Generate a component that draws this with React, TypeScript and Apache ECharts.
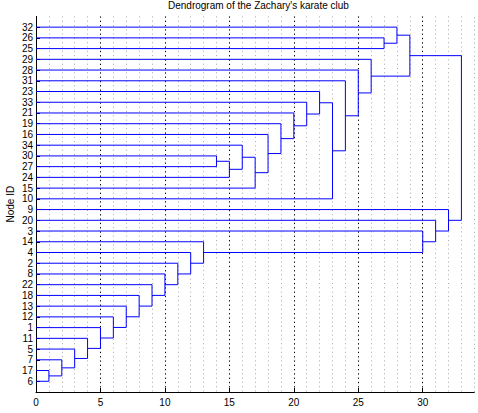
import React, { useEffect, useRef } from 'react';
import * as echarts from 'echarts';

// Leaves from bottom (position 1) to top (position 34)
const leafOrder = ['6', '17', '7', '5', '11', '1', '12', '13', '18', '22', '8', '2', '4', '14', '3', '20', '9', '10', '15', '24', '27', '30', '34', '16', '19', '21', '33', '23', '31', '28', '29', '25', '26', '32'];

// Linkage rows: leaves are 1..34, the cluster built in row k is 35 + k
const linkA = [6, 35, 36, 37, 38, 39, 40, 41, 42, 43, 44, 45, 46, 30, 48, 34, 50, 16, 19, 21, 33, 23, 56, 31, 28, 29, 26, 32, 62, 3, 20, 9, 63];
const linkB = [17, 7, 5, 11, 1, 12, 13, 18, 22, 8, 2, 4, 14, 27, 24, 49, 15, 51, 52, 53, 54, 55, 10, 57, 58, 59, 25, 61, 60, 47, 64, 65, 66];
const linkHeight = [1, 2, 3, 4, 5, 6, 7, 8, 9, 10, 11, 12, 13, 14, 15, 16, 17, 18, 19, 20, 21, 22, 23, 24, 25, 26, 27, 28, 29, 30, 31, 32, 33];

const xTicks = [0, 5, 10, 15, 20, 25, 30];

const FONT = '"Liberation Sans", Arial, Helvetica, sans-serif';
const N_LEAVES = leafOrder.length;

function buildLinks() {
  const posY: Record<number, number> = {};
  const posH: Record<number, number> = {};
  leafOrder.forEach((id, i) => {
    posY[Number(id)] = i + 1;
    posH[Number(id)] = 0;
  });
  const segs: number[][][] = [];
  for (let k = 0; k < linkA.length; k++) {
    const a = linkA[k];
    const b = linkB[k];
    const h = linkHeight[k];
    const ya = posY[a];
    const yb = posY[b];
    segs.push([
      [posH[a], ya],
      [h, ya],
      [h, yb],
      [posH[b], yb],
    ]);
    const id = N_LEAVES + 1 + k;
    posY[id] = (ya + yb) / 2;
    posH[id] = h;
  }
  return segs;
}

export default function App() {
  const ref = useRef<HTMLDivElement>(null);
  useEffect(() => {
    if (!ref.current) return;
    const chart = echarts.init(ref.current, undefined, { renderer: 'svg' });
    const segs = buildLinks();
    const series: any[] = segs.map((d, i) => ({
      type: 'line',
      data: d,
      symbol: 'none',
      silent: true,
      lineStyle: { color: '#0000ff', width: 1 },
      z: 3,
      ...(i === 0
        ? {
            markLine: {
              silent: true,
              symbol: 'none',
              label: { show: false },
              lineStyle: { color: '#aaaaaa', type: [1, 3.3], width: 1 },
              data: [{ xAxis: 34 }],
            },
          }
        : {}),
    }));
    const yVals = leafOrder.map((_, i) => i + 1);
    chart.setOption({
      animation: false,
      textStyle: { fontFamily: FONT },
      title: {
        text: "Dendrogram of the Zachary's karate club",
        left: 168,
        top: 0,
        padding: 0,
        textStyle: { fontSize: 10, fontWeight: 'normal', color: '#000', fontFamily: FONT },
      },
      grid: { left: 36, right: 3.7, top: 16.4, bottom: 21, containLabel: false, outerBoundsMode: 'none' },
      xAxis: {
        type: 'value',
        min: 0,
        max: 34,
        interval: 5,
        axisLine: { show: true, lineStyle: { color: '#000', width: 1 } },
        axisTick: { show: true, inside: true, length: 4, lineStyle: { color: '#000' }, customValues: xTicks },
        axisLabel: { fontSize: 10, color: '#000', margin: 5, fontFamily: FONT, customValues: xTicks },
        splitLine: { show: true, lineStyle: { color: '#000', type: [1.3, 3], width: 1 } },
        minorTick: { show: false, splitNumber: 5 },
        minorSplitLine: { show: true, lineStyle: { color: '#aaaaaa', type: [1, 3.3], width: 1 } },
      },
      yAxis: {
        type: 'value',
        min: 0,
        max: 35,
        interval: 1,
        name: 'Node ID',
        nameLocation: 'middle',
        nameGap: 21,
        nameMoveOverlap: false,
        nameTextStyle: { fontSize: 10, color: '#000', fontFamily: FONT },
        axisLine: { show: true, lineStyle: { color: '#000', width: 1 } },
        axisTick: { show: true, inside: true, length: 4, lineStyle: { color: '#000' }, customValues: yVals },
        axisLabel: {
          fontSize: 10,
          color: '#000',
          margin: 3,
          fontFamily: FONT,
          customValues: yVals,
          formatter: (v: number) => leafOrder[Math.round(v) - 1] ?? '',
        },
        splitLine: { show: false },
      },
      series,
    });
    return () => chart.dispose();
  }, []);
  return (
    <div
      ref={ref}
      style={{ position: 'absolute', left: 0, top: 0, width: 478, height: 413, background: '#fff' }}
    />
  );
}
